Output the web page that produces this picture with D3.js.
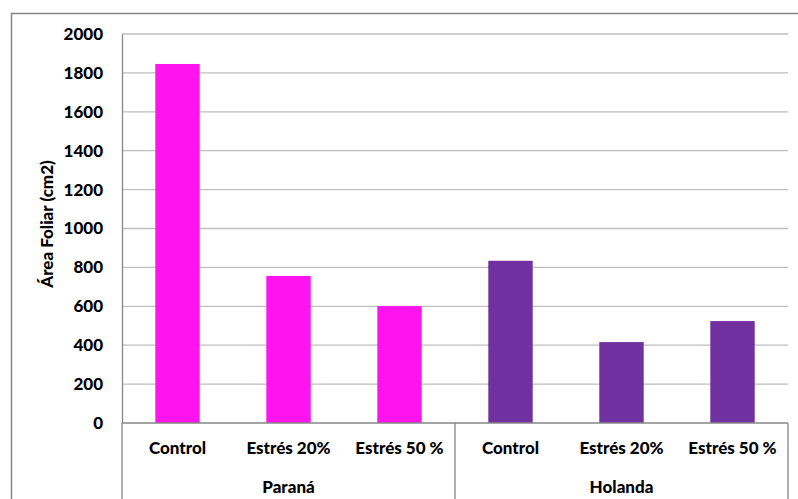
<!DOCTYPE html>
<html><head><meta charset="utf-8">
<script src="https://cdn.jsdelivr.net/npm/d3@7"></script>
<style>body{margin:0;background:#fff}svg{display:block}text{font-family:Lato,"Open Sans",sans-serif;font-weight:900;fill:#000}</style>
</head><body><svg id="c" width="798" height="499"></svg>
<script>
const groups = ["Paraná", "Holanda"];
const treatments = ["Control", "Estrés 20%", "Estrés 50 %"];
const paranaValues = [1846, 756, 601];
const holandaValues = [834, 416, 524];
const groupColors = ["#FF14F0", "#7030A0"];
const yTicks = [0, 200, 400, 600, 800, 1000, 1200, 1400, 1600, 1800, 2000];
const yTitle = "Área Foliar (cm2)";

const data = [];
[paranaValues, holandaValues].forEach((vals, gi) => vals.forEach((v, i) =>
  data.push({group: groups[gi], gi, cat: treatments[i], key: gi + "-" + i, value: v})));

const svg = d3.select("#c");
const m = {l: 122, r: 788, t: 34, b: 423};
svg.append("rect").attr("x", 11.5).attr("y", 13.5).attr("width", 800).attr("height", 500)
  .attr("fill", "none").attr("stroke", "#868686").attr("stroke-width", 1.5);

const x = d3.scaleBand().domain(data.map(d => d.key)).range([m.l, m.r]).paddingInner(0.6).paddingOuter(0.3);
const y = d3.scaleLinear().domain([0, 2000]).range([m.b, m.t]);

// gridlines
svg.append("g").selectAll("line").data(yTicks.filter(t => t > 0)).join("line")
  .attr("x1", m.l).attr("x2", m.r).attr("y1", d => y(d)).attr("y2", d => y(d))
  .attr("stroke", "#BEBEBE").attr("stroke-width", 1.3);

// y axis
const yAxis = d3.axisLeft(y).tickValues(yTicks).tickFormat(d3.format("d")).tickSize(0).tickPadding(19);
const ya = svg.append("g").attr("transform", `translate(${m.l},0)`).call(yAxis);
ya.select(".domain").attr("stroke", "#868686").attr("stroke-width", 1.3);
ya.selectAll("text").style("font-size", "17px").attr("font-family", null);

// bars
svg.append("g").selectAll("rect").data(data).join("rect")
  .attr("x", d => x(d.key)).attr("width", x.bandwidth())
  .attr("y", d => y(d.value)).attr("height", d => y(0) - y(d.value))
  .attr("fill", d => groupColors[d.gi]);

// x axis with group separators
const band = (m.r - m.l) / data.length;
const xa = svg.append("g");
xa.append("line").attr("x1", m.l).attr("x2", m.r).attr("y1", m.b).attr("y2", m.b)
  .attr("stroke", "#868686").attr("stroke-width", 1.3);
[0, 3, 6].forEach(i => xa.append("line")
  .attr("x1", m.l + i * band).attr("x2", m.l + i * band).attr("y1", m.b).attr("y2", 499)
  .attr("stroke", "#868686").attr("stroke-width", 1.3));
xa.selectAll("text.cat").data(data).join("text").attr("class", "cat")
  .attr("x", d => x(d.key) + x.bandwidth() / 2).attr("y", 448).attr("dy", "0.35em")
  .attr("text-anchor", "middle").style("font-size", "17px").text(d => d.cat);
xa.selectAll("text.grp").data(groups).join("text").attr("class", "grp")
  .attr("x", (d, i) => m.l + (i * 3 + 1.5) * band).attr("y", 487).attr("dy", "0.35em")
  .attr("text-anchor", "middle").style("font-size", "17px").text(d => d);

svg.append("text").attr("transform", `translate(47,224) rotate(-90)`)
  .attr("text-anchor", "middle").attr("dy", "0.35em").style("font-size", "17px").text(yTitle);
</script></body></html>
